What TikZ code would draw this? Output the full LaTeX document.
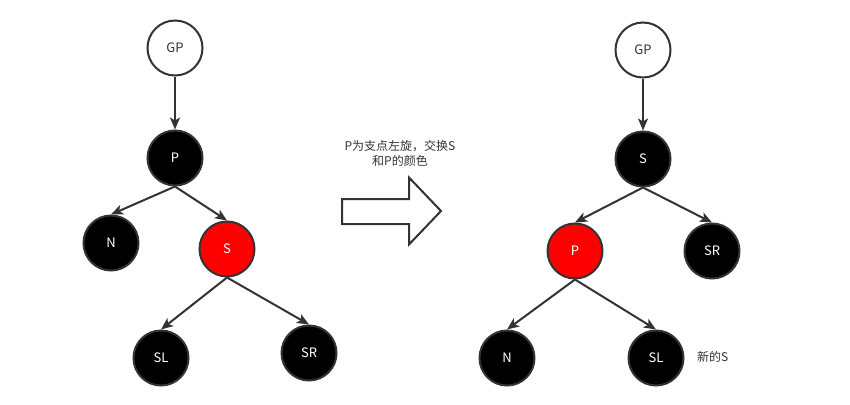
\documentclass[tikz,border=0pt]{standalone}
\usepackage{fontspec}
\setmainfont{Noto Sans CJK SC}
\usetikzlibrary{arrows.meta}
\definecolor{ln}{HTML}{333333}
\begin{document}
\begin{tikzpicture}[x=1pt,y=-1pt,
  nd/.style={circle,draw=ln,line width=2pt,minimum size=55pt,inner sep=0pt,font=\fontsize{13}{15}\selectfont},
  bk/.style={nd,fill=black,text=white},
  rd/.style={nd,fill=red,text=white},
  wt/.style={nd,fill=white,text=ln},
  edge/.style={draw=ln,line width=2pt,-{Stealth[length=12pt,width=10pt,inset=3pt]}},
  lbl/.style={font=\fontsize{12}{15}\selectfont,text=ln,align=center}]
\useasboundingbox (0,0) rectangle (850,404);
% left tree
\node[wt] (gp1) at (175,48) {GP};
\node[bk] (p1) at (175,158) {P};
\node[bk] (n1) at (111,243) {N};
\node[rd] (s1) at (227,249) {S};
\node[bk] (sl1) at (161,358) {SL};
\node[bk] (sr1) at (309,353) {SR};
\draw[edge] (gp1.south) -- (p1.north);
\draw[edge] (p1.south) -- (n1.north);
\draw[edge] (p1.south) -- (s1.north);
\draw[edge] (s1.south) -- (sl1.north);
\draw[edge] (s1.south) -- (sr1.north);
% arrow
\node[lbl] (txt) at (400,153) {P为支点左旋，交换S\\和P的颜色};
\draw[draw=ln,line width=2pt,fill=white,line join=miter]
  (342,199) -- (409,199) -- (409,177.5) -- (441,211) -- (409,244.5) -- (409,224) -- (342,224) -- cycle;
% right tree
\node[wt] (gp2) at (643,50) {GP};
\node[bk] (s2) at (643,159) {S};
\node[rd] (p2) at (575,251) {P};
\node[bk] (sr2) at (712,251) {SR};
\node[bk] (n2) at (507,358) {N};
\node[bk] (sl2) at (656,358) {SL};
\draw[edge] (gp2.south) -- (s2.north);
\draw[edge] (s2.south) -- (p2.north);
\draw[edge] (s2.south) -- (sr2.north);
\draw[edge] (p2.south) -- (n2.north);
\draw[edge] (p2.south) -- (sl2.north);
\node[lbl,anchor=west,inner sep=0pt] (new) at (697,357) {新的S};
\end{tikzpicture}
\end{document}
